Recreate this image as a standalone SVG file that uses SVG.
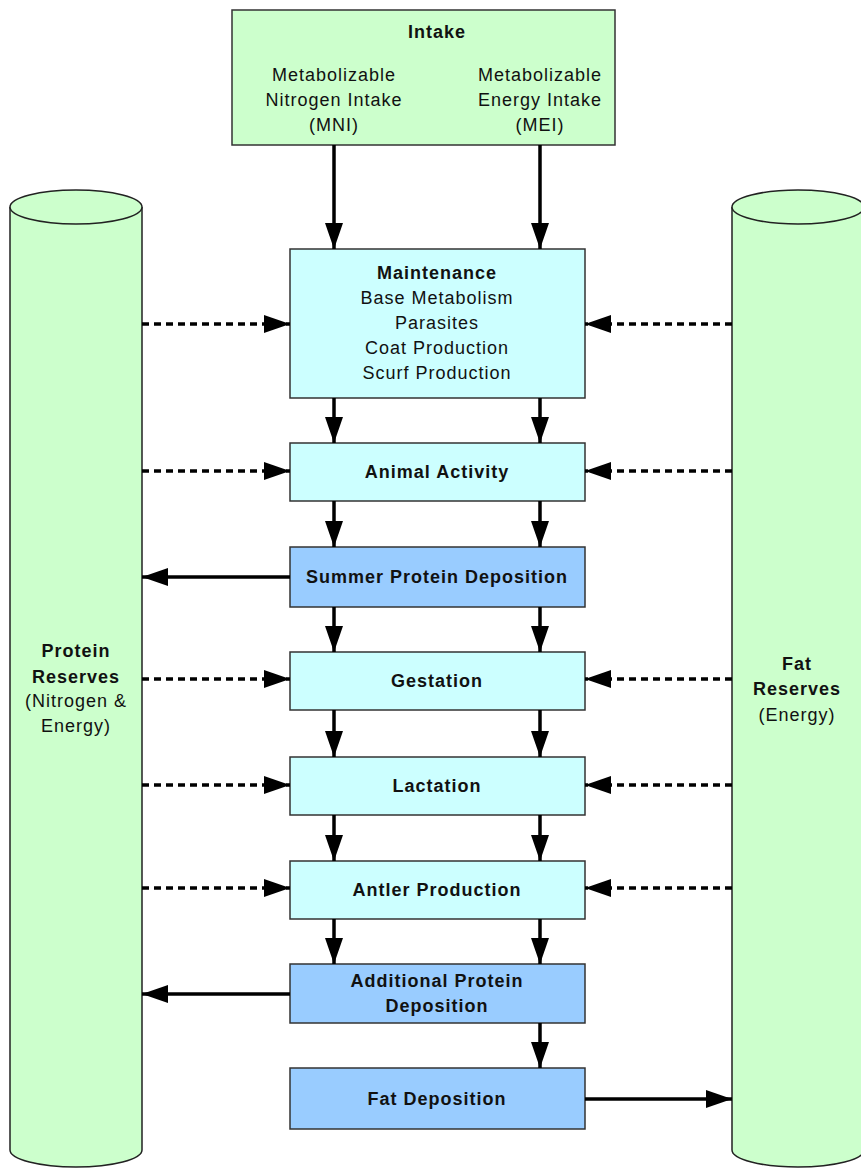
<svg xmlns="http://www.w3.org/2000/svg" width="861" height="1168" viewBox="0 0 861 1168">
<defs>
<marker id="ah" markerUnits="userSpaceOnUse" markerWidth="28" markerHeight="20" refX="26" refY="10" orient="auto">
<path d="M0,1 L26,10 L0,19 Z" fill="#000"/>
</marker>
<style>
.box{stroke:#333;stroke-width:1.5}
.g{fill:#CCFFCC}
.c{fill:#CCFFFF}
.b{fill:#99CCFF}
.cyl{fill:#CCFFCC;stroke:#222;stroke-width:1.5}
text{font-family:"Liberation Sans",Arial,sans-serif;font-size:18px;fill:#111;text-anchor:middle;letter-spacing:1px}
.bd{font-weight:bold}
.s{stroke:#000;stroke-width:3.5;fill:none;marker-end:url(#ah)}
.d{stroke:#000;stroke-width:3.5;fill:none;stroke-dasharray:7,5;marker-end:url(#ah)}
</style>
</defs>
<rect width="861" height="1168" fill="#fff"/>
<g id="protein-reserves">
<path class="cyl" d="M10,207 L10,1150 A66,17 0 0 0 142,1150 L142,207"/>
<ellipse class="cyl" cx="76" cy="207" rx="66" ry="17"/>
<text class="bd" x="76" y="657">Protein</text>
<text class="bd" x="76" y="683">Reserves</text>
<text x="76" y="707">(Nitrogen &amp;</text>
<text x="76" y="732">Energy)</text>
</g>
<g id="fat-reserves">
<path class="cyl" d="M732,207 L732,1150 A66,17 0 0 0 864,1150 L864,207"/>
<ellipse class="cyl" cx="798" cy="207" rx="66" ry="17"/>
<text class="bd" x="797" y="670">Fat</text>
<text class="bd" x="797" y="695">Reserves</text>
<text x="797" y="721">(Energy)</text>
</g>
<g id="intake">
<rect class="box g" x="232" y="10" width="383" height="135"/>
<text class="bd" x="437" y="38">Intake</text>
<text x="334" y="81">Metabolizable</text>
<text x="334" y="106">Nitrogen Intake</text>
<text x="334" y="131">(MNI)</text>
<text x="540" y="81">Metabolizable</text>
<text x="540" y="106">Energy Intake</text>
<text x="540" y="131">(MEI)</text>
</g>
<g id="maintenance">
<rect class="box c" x="290" y="249" width="295" height="149"/>
<text class="bd" x="437" y="279">Maintenance</text>
<text x="437" y="304">Base Metabolism</text>
<text x="437" y="329">Parasites</text>
<text x="437" y="354">Coat Production</text>
<text x="437" y="379">Scurf Production</text>
</g>
<g id="animal-activity">
<rect class="box c" x="290" y="443" width="295" height="58"/>
<text class="bd" x="437" y="478">Animal Activity</text>
</g>
<g id="summer-protein">
<rect class="box b" x="290" y="547" width="295" height="60"/>
<text class="bd" x="437" y="583">Summer Protein Deposition</text>
</g>
<g id="gestation">
<rect class="box c" x="290" y="652" width="295" height="58"/>
<text class="bd" x="437" y="687">Gestation</text>
</g>
<g id="lactation">
<rect class="box c" x="290" y="757" width="295" height="58"/>
<text class="bd" x="437" y="792">Lactation</text>
</g>
<g id="antler">
<rect class="box c" x="290" y="861" width="295" height="58"/>
<text class="bd" x="437" y="896">Antler Production</text>
</g>
<g id="additional-protein">
<rect class="box b" x="290" y="964" width="295" height="59"/>
<text class="bd" x="437" y="987">Additional Protein</text>
<text class="bd" x="437" y="1012">Deposition</text>
</g>
<g id="fat-deposition">
<rect class="box b" x="290" y="1068" width="295" height="61"/>
<text class="bd" x="437" y="1105">Fat Deposition</text>
</g>
<g id="connectors">
<line class="s" x1="334" y1="145" x2="334" y2="249"/>
<line class="s" x1="540" y1="145" x2="540" y2="249"/>
<line class="s" x1="334" y1="398" x2="334" y2="443"/>
<line class="s" x1="540" y1="398" x2="540" y2="443"/>
<line class="s" x1="334" y1="501" x2="334" y2="547"/>
<line class="s" x1="540" y1="501" x2="540" y2="547"/>
<line class="s" x1="334" y1="607" x2="334" y2="652"/>
<line class="s" x1="540" y1="607" x2="540" y2="652"/>
<line class="s" x1="334" y1="710" x2="334" y2="757"/>
<line class="s" x1="540" y1="710" x2="540" y2="757"/>
<line class="s" x1="334" y1="815" x2="334" y2="861"/>
<line class="s" x1="540" y1="815" x2="540" y2="861"/>
<line class="s" x1="334" y1="919" x2="334" y2="964"/>
<line class="s" x1="540" y1="919" x2="540" y2="964"/>
<line class="s" x1="540" y1="1023" x2="540" y2="1068"/>
<line class="d" x1="142" y1="324" x2="290" y2="324"/>
<line class="d" x1="732" y1="324" x2="585" y2="324"/>
<line class="d" x1="142" y1="471" x2="290" y2="471"/>
<line class="d" x1="732" y1="471" x2="585" y2="471"/>
<line class="d" x1="142" y1="679" x2="290" y2="679"/>
<line class="d" x1="732" y1="679" x2="585" y2="679"/>
<line class="d" x1="142" y1="785" x2="290" y2="785"/>
<line class="d" x1="732" y1="785" x2="585" y2="785"/>
<line class="d" x1="142" y1="888" x2="290" y2="888"/>
<line class="d" x1="732" y1="888" x2="585" y2="888"/>
<line class="s" x1="290" y1="577" x2="142" y2="577"/>
<line class="s" x1="290" y1="994" x2="142" y2="994"/>
<line class="s" x1="585" y1="1099" x2="732" y2="1099"/>
</g>
</svg>
